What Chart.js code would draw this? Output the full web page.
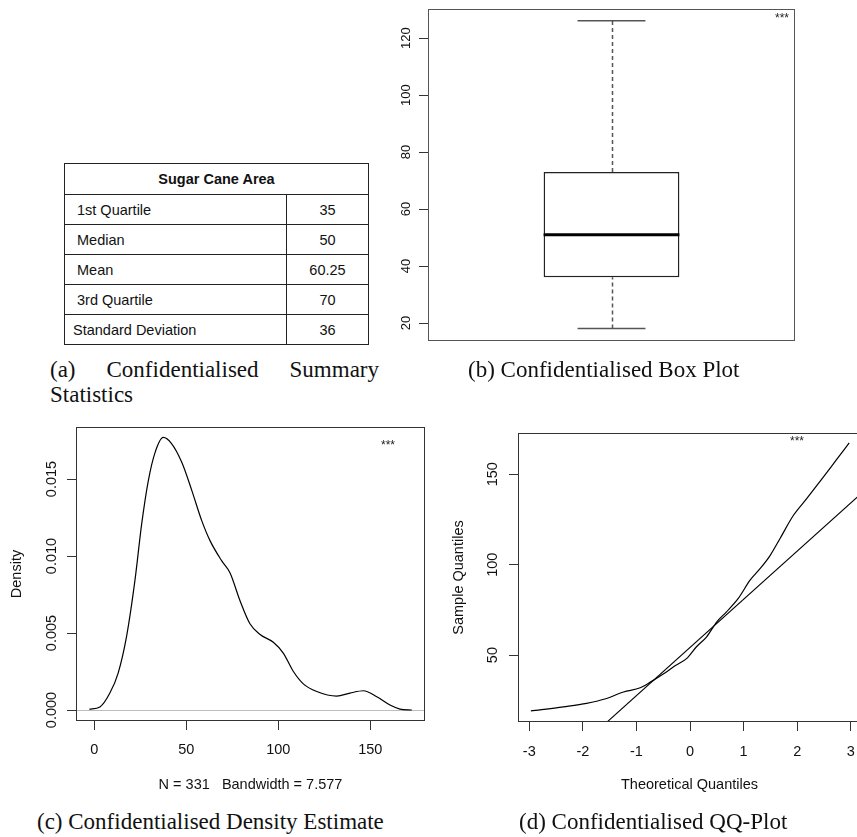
<!DOCTYPE html>
<html>
<head>
<meta charset="utf-8">
<title>Sugar Cane Area</title>
<script src="https://cdn.jsdelivr.net/npm/chart.js@4.4.1/dist/chart.umd.min.js"></script>
<style>
    html, body { margin: 0; padding: 0; background: #fff; overflow: hidden; }
    body { position: relative; width: 857px; height: 837px; }
    .plot { position: absolute; }
    .plot canvas { display: block; }
    .caption {
        position: absolute;
        font-family: "Liberation Serif", "Times New Roman", serif;
        font-size: 23px;
        line-height: 25px;
        color: #111;
        white-space: nowrap;
    }
    #cap-a { left: 50px; top: 357px; width: 329px; white-space: normal; text-align: justify; }
    #cap-b { left: 468px; top: 357px; }
    #cap-c { left: 37px; top: 809px; }
    #cap-d { left: 519px; top: 809px; }
    #stats {
        position: absolute; left: 64px; top: 163px; width: 305px;
        border-collapse: collapse;
        font-family: "Liberation Sans", Arial, sans-serif;
        font-size: 14.5px; color: #111;
    }
    #stats th, #stats td { border: 1px solid #222; padding: 0; height: 29px; }
    #stats th { height: 30px; font-weight: bold; text-align: center; }
    #stats td.label { padding-left: 12px; text-align: left; width: 209px; }
    #stats td.value { text-align: center; }
    #stats tr:last-child td.label { padding-left: 8px; }
</style>
</head>
<body>
<table id="stats"></table>
<div class="caption" id="cap-a">(a) Confidentialised Summary Statistics</div>

<div class="plot" style="left:380px; top:0px;"><canvas id="boxChart" width="440" height="360"></canvas></div>
<div class="caption" id="cap-b">(b) Confidentialised Box Plot</div>

<div class="plot" style="left:0px; top:400px;"><canvas id="densityChart" width="440" height="400"></canvas></div>
<div class="caption" id="cap-c">(c) Confidentialised Density Estimate</div>

<div class="plot" style="left:430px; top:400px;"><canvas id="qqChart" width="440" height="400"></canvas></div>
<div class="caption" id="cap-d">(d) Confidentialised QQ-Plot</div>

<script>
// summary table
const tableTitle = 'Sugar Cane Area';
const statLabels = ['1st Quartile', 'Median', 'Mean', '3rd Quartile', 'Standard Deviation'];
const statValues = ['35', '50', '60.25', '70', '36'];

// box plot
const boxQuartiles = [36.1, 73.0];
const boxMedian = 51.0;
const boxWhiskers = [18.1, 126.1];
const boxTicks = [20, 40, 60, 80, 100, 120];

// kernel density estimate
const densityX = [-2.7, 3.1, 8.5, 13.0, 17.6, 22.1, 25.8, 29.4, 33.0, 37.5, 42.0, 47.5, 52.9, 58.4, 62.9, 69.2,
    73.8, 79.2, 84.6, 90.1, 97.3, 102.7, 108.2, 113.6, 120.9, 131.7, 139.0, 146.2, 153.5, 160.7, 166.1, 172.5];
const densityY = [0.00005, 0.0002, 0.0011, 0.0024, 0.0048, 0.0084, 0.0121, 0.0149, 0.0167, 0.0177, 0.0173,
    0.0161, 0.0143, 0.0123, 0.0110, 0.0097, 0.0089, 0.0071, 0.0056, 0.0049, 0.0044, 0.0037, 0.0025, 0.0017,
    0.0012, 0.0009, 0.0011, 0.00125, 0.00086, 0.00032, 0.00006, 0];
const densityXTicks = [0, 50, 100, 150];
const densityYTicks = [0, 0.005, 0.010, 0.015];
const densityNote = 'N = 331   Bandwidth = 7.577';

// normal QQ plot
const qqTheoretical = [-2.97, -2.36, -1.93, -1.59, -1.24, -0.93, -0.71, -0.50, -0.28, -0.06, 0.12, 0.31,
    0.50, 0.68, 0.90, 1.12, 1.31, 1.49, 1.68, 1.93, 2.18, 2.49, 2.74, 2.97];
const qqSample = [19.1, 21.4, 23.3, 25.7, 29.6, 31.9, 35.6, 39.5, 44.1, 48.2, 54.6, 60.1, 68.4, 73.9, 81.3,
    91.4, 97.9, 104.9, 114.5, 127.3, 136.6, 148.5, 158.3, 167.3];
const qqLineX = [-1.6, 3.3];
const qqLineY = [11.6, 142.2];
const qqXTicks = [-3, -2, -1, 0, 1, 2, 3];
const qqYTicks = [50, 100, 150];

// build the table
const table = document.getElementById('stats');
const head = table.insertRow();
const th = document.createElement('th');
th.colSpan = 2;
th.textContent = tableTitle;
head.appendChild(th);
statLabels.forEach((label, i) => {
    const row = table.insertRow();
    const a = row.insertCell();
    a.className = 'label';
    a.textContent = label;
    const b = row.insertCell();
    b.className = 'value';
    b.textContent = statValues[i];
});

Chart.defaults.font.family = '"Liberation Sans", Arial, sans-serif';
Chart.defaults.color = '#111';

// fixed axis sizes so the plot regions line up
function fixAxis(width, height) {
    return function (scale) {
        if (width != null) scale.width = width;
        if (height != null) scale.height = height;
        scale.paddingTop = 0;
        scale.paddingBottom = 0;
        scale.paddingLeft = 0;
        scale.paddingRight = 0;
    };
}

function setTicks(values) {
    return function (scale) {
        scale.ticks = values.map(v => ({ value: v }));
    };
}

const gridOpts = { display: true, drawOnChartArea: false, drawTicks: true, tickLength: 9, color: '#333', lineWidth: 1 };

// box around the plot region, optional zero line and the "***" mark
const framePlugin = {
    id: 'frame',
    beforeDatasetsDraw(chart, args, opts) {
        if (opts.zeroLine) {
            const a = chart.chartArea;
            const py = Math.round(chart.scales.y.getPixelForValue(0)) + 0.5;
            const ctx = chart.ctx;
            ctx.save();
            ctx.strokeStyle = '#bdbdbd';
            ctx.lineWidth = 1;
            ctx.beginPath();
            ctx.moveTo(a.left, py);
            ctx.lineTo(a.right, py);
            ctx.stroke();
            ctx.restore();
        }
    },
    afterDatasetsDraw(chart, args, opts) {
        const { ctx, chartArea: a } = chart;
        ctx.save();
        ctx.strokeStyle = opts.color || '#333';
        ctx.lineWidth = 1;
        ctx.strokeRect(a.left + 0.5, a.top + 0.5, a.right - a.left - 1, a.bottom - a.top - 1);
        if (opts.stars) {
            ctx.fillStyle = '#222';
            ctx.font = '12px "Liberation Sans", Arial, sans-serif';
            ctx.textAlign = 'center';
            ctx.fillText('***', a.right - opts.stars[0], a.top + opts.stars[1]);
        }
        ctx.restore();
    }
};

// whiskers, caps and median for the box
const boxParts = {
    id: 'boxParts',
    beforeDatasetsDraw(chart) {
        const bar = chart.getDatasetMeta(0).data[0];
        const y = chart.scales.y;
        const ctx = chart.ctx;
        const cx = Math.round(bar.x) + 0.5;
        const capHalf = bar.width / 4;
        ctx.save();
        ctx.strokeStyle = '#555';
        ctx.lineWidth = 1.5;
        ctx.setLineDash([4, 3]);
        ctx.beginPath();
        ctx.moveTo(cx, y.getPixelForValue(boxWhiskers[0]));
        ctx.lineTo(cx, y.getPixelForValue(boxQuartiles[0]));
        ctx.moveTo(cx, y.getPixelForValue(boxQuartiles[1]));
        ctx.lineTo(cx, y.getPixelForValue(boxWhiskers[1]));
        ctx.stroke();
        ctx.setLineDash([]);
        ctx.beginPath();
        boxWhiskers.forEach(v => {
            const py = y.getPixelForValue(v);
            ctx.moveTo(bar.x - capHalf, py);
            ctx.lineTo(bar.x + capHalf, py);
        });
        ctx.stroke();
        ctx.restore();
    },
    afterDatasetsDraw(chart) {
        const bar = chart.getDatasetMeta(0).data[0];
        const py = chart.scales.y.getPixelForValue(boxMedian);
        const ctx = chart.ctx;
        ctx.save();
        ctx.strokeStyle = '#000';
        ctx.lineWidth = 3;
        ctx.beginPath();
        ctx.moveTo(bar.x - bar.width / 2, py);
        ctx.lineTo(bar.x + bar.width / 2, py);
        ctx.stroke();
        ctx.restore();
    }
};

new Chart(document.getElementById('boxChart'), {
    type: 'bar',
    data: {
        labels: [''],
        datasets: [{
            data: [boxQuartiles],
            backgroundColor: '#fff',
            borderColor: '#222',
            borderWidth: 1.5,
            borderSkipped: false,
            barPercentage: 0.37,
            categoryPercentage: 1
        }]
    },
    options: {
        responsive: false,
        animation: false,
        layout: { padding: { top: 9, right: 25, bottom: 19, left: 0 } },
        plugins: {
            legend: { display: false },
            tooltip: { enabled: false },
            frame: { color: '#555', stars: [13, 13] }
        },
        scales: {
            x: { display: false },
            y: {
                min: 13.7,
                max: 130.2,
                afterBuildTicks: setTicks(boxTicks),
                afterFit: fixAxis(48, null),
                ticks: { minRotation: 90, maxRotation: 90, crossAlign: 'center', padding: 1.5, autoSkip: false, font: { size: 13 } },
                grid: gridOpts,
                border: { display: false }
            }
        }
    },
    plugins: [boxParts, framePlugin]
});

new Chart(document.getElementById('densityChart'), {
    type: 'line',
    data: {
        datasets: [{
            data: densityX.map((x, i) => ({ x: x, y: densityY[i] })),
            borderColor: '#000',
            borderWidth: 1.2,
            pointRadius: 0,
            cubicInterpolationMode: 'monotone',
            fill: false
        }]
    },
    options: {
        responsive: false,
        animation: false,
        layout: { padding: { top: 27, right: 15, bottom: 0, left: 0 } },
        plugins: {
            legend: { display: false },
            tooltip: { enabled: false },
            frame: { color: '#333', stars: [37, 22], zeroLine: true }
        },
        scales: {
            x: {
                type: 'linear',
                min: -9.9,
                max: 179.7,
                afterBuildTicks: setTicks(densityXTicks),
                afterFit: fixAxis(null, 79),
                ticks: { padding: 11.3, maxRotation: 0, autoSkip: false, font: { size: 14.5 } },
                grid: gridOpts,
                border: { display: false },
                title: { display: true, text: densityNote, font: { size: 14.5 }, padding: { top: 0, bottom: 6.3 } }
            },
            y: {
                min: -0.000714,
                max: 0.01838,
                afterBuildTicks: setTicks(densityYTicks),
                afterFit: fixAxis(76, null),
                ticks: {
                    minRotation: 90, maxRotation: 90, crossAlign: 'center', padding: -2.8, autoSkip: false,
                    font: { size: 14.5 },
                    callback: v => v.toFixed(3)
                },
                grid: gridOpts,
                border: { display: false },
                title: { display: true, text: 'Density', font: { size: 14.5 }, padding: { top: 8.3, bottom: 0 } }
            }
        }
    },
    plugins: [framePlugin]
});

new Chart(document.getElementById('qqChart'), {
    type: 'line',
    data: {
        datasets: [{
            data: qqTheoretical.map((x, i) => ({ x: x, y: qqSample[i] })),
            borderColor: '#000',
            borderWidth: 1.2,
            pointRadius: 0,
            cubicInterpolationMode: 'monotone',
            fill: false
        }, {
            data: qqLineX.map((x, i) => ({ x: x, y: qqLineY[i] })),
            borderColor: '#000',
            borderWidth: 1.1,
            pointRadius: 0,
            fill: false
        }]
    },
    options: {
        responsive: false,
        animation: false,
        layout: { padding: { top: 33, right: 9, bottom: 0, left: 0 } },
        plugins: {
            legend: { display: false },
            tooltip: { enabled: false },
            frame: { color: '#333', stars: [64, 12] }
        },
        scales: {
            x: {
                type: 'linear',
                min: -3.21,
                max: 3.19,
                afterBuildTicks: setTicks(qqXTicks),
                afterFit: fixAxis(null, 78),
                ticks: { padding: 12, maxRotation: 0, autoSkip: false, font: { size: 14.5 }, callback: v => String(v) },
                grid: gridOpts,
                border: { display: false },
                title: { display: true, text: 'Theoretical Quantiles', font: { size: 14.5 }, padding: { top: 0, bottom: 6.3 } }
            },
            y: {
                min: 13.0,
                max: 172.8,
                afterBuildTicks: setTicks(qqYTicks),
                afterFit: fixAxis(88, null),
                ticks: { minRotation: 90, maxRotation: 90, crossAlign: 'center', padding: 3.6, autoSkip: false, font: { size: 14.5 } },
                grid: gridOpts,
                border: { display: false },
                title: { display: true, text: 'Sample Quantiles', font: { size: 14.5 }, padding: { top: 20.3, bottom: 0 } }
            }
        }
    },
    plugins: [framePlugin]
});
</script>
</body>
</html>
